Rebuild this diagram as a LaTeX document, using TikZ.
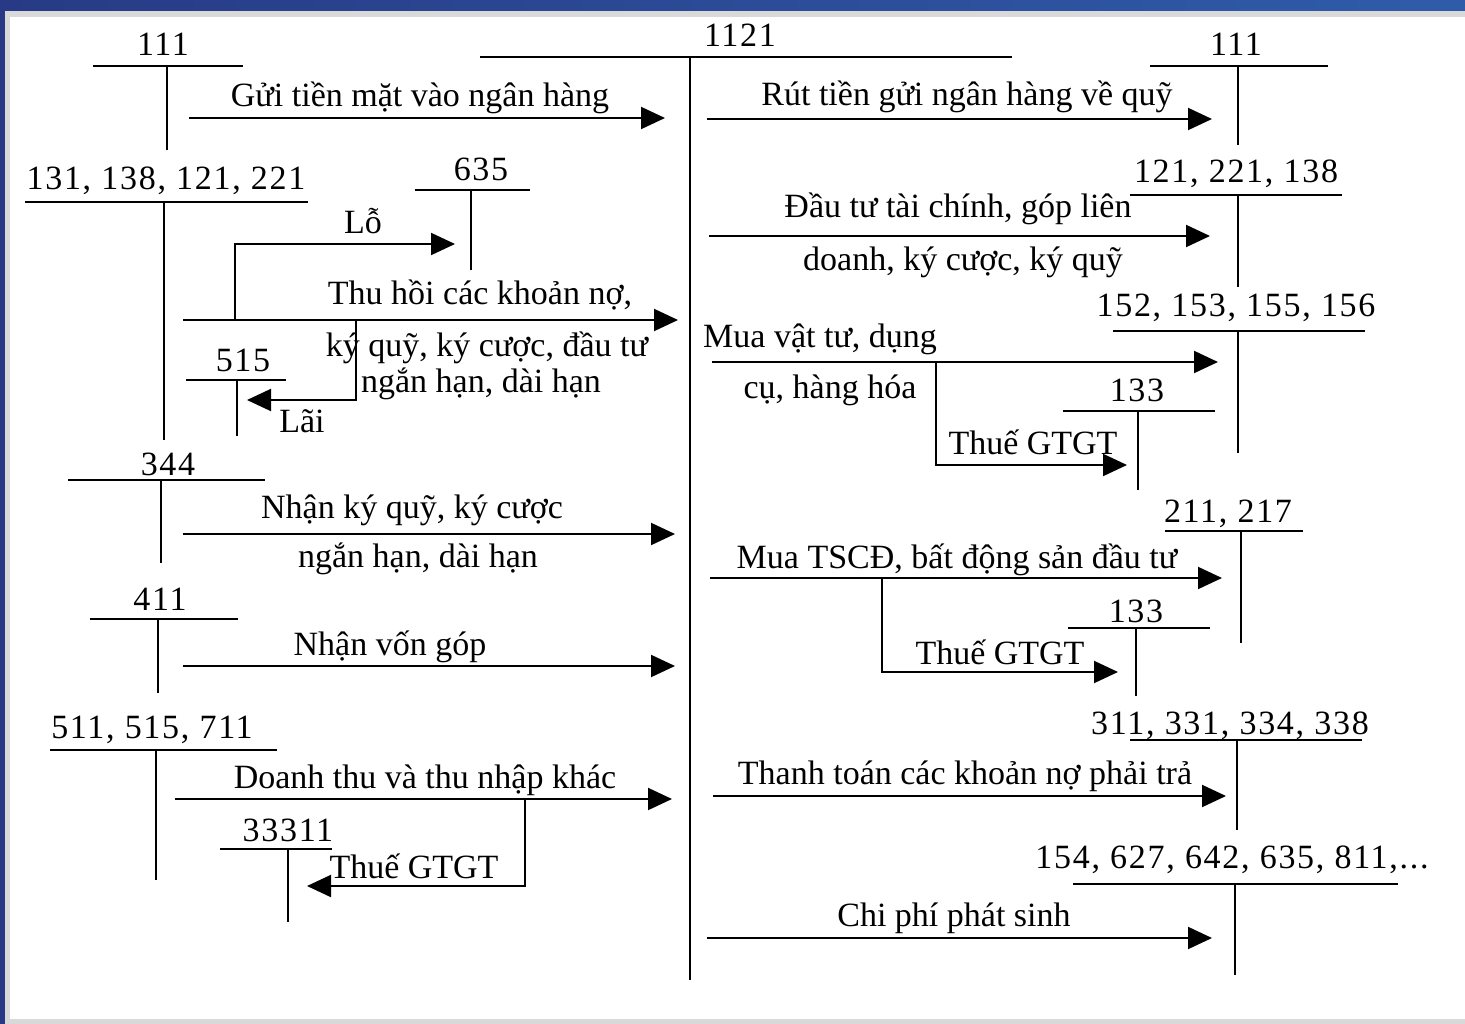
\documentclass[tikz,border=0pt]{standalone}
\usepackage{fontspec}
\setmainfont{Liberation Serif}
\usetikzlibrary{arrows.meta}
\definecolor{bandL}{HTML}{283A86}
\definecolor{bandR}{HTML}{2F5CA9}
\definecolor{bandgray}{HTML}{D9D9D9}
\begin{document}
\begin{tikzpicture}[x=1pt,y=-1pt,
  ln/.style={line width=2pt},
  arr/.style={line width=2pt,-{Triangle[length=24pt,width=22pt]}},
  lbl/.style={anchor=base,inner sep=0pt,font=\fontsize{34}{40}\selectfont},
  num/.style={lbl,font=\fontsize{34}{40}\selectfont\addfontfeature{LetterSpace=5}},
  lbll/.style={lbl,anchor=base west}]
% frame
\useasboundingbox (0,0) rectangle (1465,1024);
\fill[white] (0,0) rectangle (1465,1024);
\shade[left color=bandL,right color=bandR] (0,0) rectangle (1465,11);
\fill[bandL] (0,0) rectangle (5,1024);
\fill[bandgray] (5,11) rectangle (1465,17);
\fill[bandgray] (5,11) rectangle (10,1024);
\fill[bandgray] (5,1019) rectangle (1465,1024);
% main account 1121
\coordinate (mL) at (480,57);
\coordinate (mR) at (1012,57);
\coordinate (mT) at (690,57);
\coordinate (mB) at (690,980);
\draw[ln] (mL) -- (mR) (mT) -- (mB);
\node[num] (n1121) at (740,47) {1121};
% T accounts: left x, right x, y, stem x, stem bottom
\foreach \xl/\xr/\yy/\xv/\yb in {
  93/243/66/167/150, 25/308/202/164/440, 415/530/190/471/270,
  186/286/380/237/436, 68/265/480/161/563, 90/238/619/158/693,
  50/277/750/156/880, 220/332/849/288/922,
  1150/1328/66/1238/145, 1130/1342/195/1238/287, 1113/1365/331/1238/453,
  1063/1215/411/1138/490, 1165/1303/531/1241/643, 1068/1210/628/1136/696,
  1130/1362/740/1237/830, 1073/1398/884/1235/975}
  \draw[ln] (\xl,\yy) -- (\xr,\yy) (\xv,\yy) -- (\xv,\yb);
% account labels
\node[num] (t111a) at (163,56) {111};
\node[num] (t131) at (166,190) {131, 138, 121, 221};
\node[num] (t635) at (481,181) {635};
\node[num] (t515) at (243,372) {515};
\node[num] (t344) at (168,475) {344};
\node[num] (t411) at (160,610) {411};
\node[num] (t511) at (152,738) {511, 515, 711};
\node[num] (t33311) at (288,841) {33311};
\node[num] (t111b) at (1236,56) {111};
\node[num] (t121) at (1236,183) {121, 221, 138};
\node[num] (t152) at (1236,317) {152, 153, 155, 156};
\node[num] (t133a) at (1137,401) {133};
\node[num] (t211) at (1228,522) {211, 217};
\node[num] (t133b) at (1136,622) {133};
\node[num] (t311) at (1230,734) {311, 331, 334, 338};
\node[num] (t154) at (1232,868) {154, 627, 642, 635, 811,...};
% left arrows
\coordinate (a1s) at (189,118); \coordinate (a1e) at (665,118);
\draw[arr] (a1s) -- (a1e);
\node[lbl] (l1) at (420,107) {Gửi tiền mặt vào ngân hàng};
\coordinate (a2s) at (183,320); \coordinate (a2e) at (678,320);
\draw[arr] (a2s) -- (a2e);
\node[lbl] (l2a) at (480,305) {Thu hồi các khoản nợ,};
\node[lbl] (l2b) at (487,357) {ký quỹ, ký cược, đầu tư};
\node[lbl] (l2c) at (481,392) {ngắn hạn, dài hạn};
\coordinate (lo0) at (235,320); \coordinate (lo1) at (455,244);
\draw[arr] (lo0) |- (lo1);
\node[lbl] (llo) at (363,234) {Lỗ};
\coordinate (la0) at (356,320); \coordinate (la1) at (247,400);
\draw[arr] (la0) |- (la1);
\node[lbl] (lla) at (302,432) {Lãi};
\coordinate (a3s) at (183,534); \coordinate (a3e) at (675,534);
\draw[arr] (a3s) -- (a3e);
\node[lbl] (l3a) at (412,518) {Nhận ký quỹ, ký cược};
\node[lbl] (l3b) at (418,567) {ngắn hạn, dài hạn};
\coordinate (a4s) at (183,666); \coordinate (a4e) at (675,666);
\draw[arr] (a4s) -- (a4e);
\node[lbl] (l4) at (390,655) {Nhận vốn góp};
\coordinate (a5s) at (175,799); \coordinate (a5e) at (672,799);
\draw[arr] (a5s) -- (a5e);
\node[lbl] (l5) at (425,788) {Doanh thu và thu nhập khác};
\coordinate (v0) at (525,799); \coordinate (v1) at (307,886);
\draw[arr] (v0) |- (v1);
\node[lbl] (lv) at (414,878) {Thuế GTGT};
% right arrows
\coordinate (b1s) at (707,119); \coordinate (b1e) at (1212,119);
\draw[arr] (b1s) -- (b1e);
\node[lbl] (r1) at (967,106) {Rút tiền gửi ngân hàng về quỹ};
\coordinate (b2s) at (709,236); \coordinate (b2e) at (1210,236);
\draw[arr] (b2s) -- (b2e);
\node[lbl] (r2a) at (958,218) {Đầu tư tài chính, góp liên};
\node[lbl] (r2b) at (963,271) {doanh, ký cược, ký quỹ};
\coordinate (b3s) at (712,362); \coordinate (b3e) at (1218,362);
\draw[arr] (b3s) -- (b3e);
\node[lbll] (r3a) at (703,348) {Mua vật tư, dụng};
\node[lbl] (r3b) at (830,399) {cụ, hàng hóa};
\coordinate (w0) at (936,362); \coordinate (w1) at (1127,465);
\draw[arr] (w0) |- (w1);
\node[lbl] (rw1) at (1033,454) {Thuế GTGT};
\coordinate (b4s) at (710,578); \coordinate (b4e) at (1222,578);
\draw[arr] (b4s) -- (b4e);
\node[lbl] (r4) at (957,568) {Mua TSCĐ, bất động sản đầu tư};
\coordinate (u0) at (882,578); \coordinate (u1) at (1118,672);
\draw[arr] (u0) |- (u1);
\node[lbl] (rw2) at (1000,664) {Thuế GTGT};
\coordinate (b5s) at (713,796); \coordinate (b5e) at (1226,796);
\draw[arr] (b5s) -- (b5e);
\node[lbl] (r5) at (965,784) {Thanh toán các khoản nợ phải trả};
\coordinate (b6s) at (707,938); \coordinate (b6e) at (1212,938);
\draw[arr] (b6s) -- (b6e);
\node[lbl] (r6) at (954,926) {Chi phí phát sinh};
\end{tikzpicture}
\end{document}
